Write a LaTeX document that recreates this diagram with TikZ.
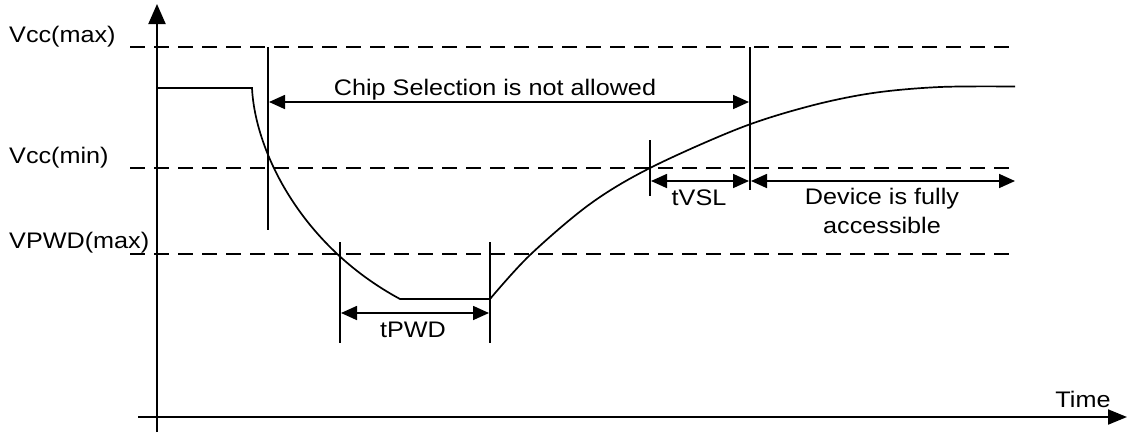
\documentclass[tikz,border=0pt]{standalone}
\usepackage{fontspec}
\setmainfont{Liberation Sans}[FakeStretch=1.12]
\usetikzlibrary{arrows.meta}
\begin{document}
\begin{tikzpicture}[x=1pt,y=-1pt,
  txt/.style={inner sep=0pt,font=\fontsize{22.5}{29}\selectfont,text=black},
  axis/.style={line width=2pt},
  sig/.style={line width=1.7pt},
  lvl/.style={line width=2.2pt,dash pattern=on 15pt off 9pt},
  mark line/.style={line width=1.7pt},
  dim/.style={line width=1.7pt,{Triangle[length=16pt,width=14pt]}-{Triangle[length=16pt,width=14pt]}},
  ]
\useasboundingbox (0,0) rectangle (1129,432);
% axes
\coordinate (yb) at (157,432); \coordinate (yt) at (157,4);
\coordinate (xl) at (138,417); \coordinate (xr) at (1127,417);
\draw[axis,-{Triangle[length=20pt,width=17pt]}] (yb) -- (yt);
\draw[axis,-{Triangle[length=19pt,width=15pt]}] (xl) -- (xr);
\node[txt] (time) at (1083,399) {Time};
% levels
\coordinate (vmaxL) at (130,47); \coordinate (vmaxR) at (1016,47);
\coordinate (vminL) at (130,168); \coordinate (vminR) at (1016,168);
\coordinate (vpwdL) at (130,254); \coordinate (vpwdR) at (1016,254);
\draw[lvl] (vmaxL) -- (vmaxR);
\draw[lvl] (vminL) -- (vminR);
\draw[lvl] (vpwdL) -- (vpwdR);
\node[txt,anchor=west] (lmax) at (9,37) {Vcc(max)};
\node[txt,anchor=west] (lmin) at (9,158) {Vcc(min)};
\node[txt,anchor=west] (lpwd) at (9,243) {VPWD(max)};
% signal
\coordinate (s0) at (157,88); \coordinate (s1) at (252,88);
\coordinate (s2) at (400,299); \coordinate (s3) at (490,299);
\draw[sig] (s0) -- (s1) .. controls (255,150) and (300,245) .. (s2) -- (s3);
\draw[sig] plot[smooth,tension=0.55] coordinates {(490,299) (530,255) (590,204) (650,168) (740,128) (810,106) (873,93) (940,87) (1015,86.5)};
% marker lines
\coordinate (m1t) at (268,47); \coordinate (m1b) at (268,230);
\coordinate (m2t) at (750,47); \coordinate (m2b) at (750,190);
\coordinate (m3t) at (340,242); \coordinate (m3b) at (340,343);
\coordinate (m4t) at (490,242); \coordinate (m4b) at (490,343);
\coordinate (m5t) at (650,140); \coordinate (m5b) at (650,196);
\draw[mark line] (m1t) -- (m1b);
\draw[mark line] (m2t) -- (m2b);
\draw[mark line] (m3t) -- (m3b);
\draw[mark line] (m4t) -- (m4b);
\draw[mark line] (m5t) -- (m5b);
% dimension arrows
\coordinate (c1) at (269,102); \coordinate (c2) at (749,102);
\draw[dim] (c1) -- (c2);
\node[txt] (chip) at (495,90) {Chip Selection is not allowed};
\coordinate (p1) at (341,313); \coordinate (p2) at (489,313);
\draw[dim] (p1) -- (p2);
\node[txt] (tpwd) at (413,330) {tPWD};
\coordinate (v1) at (651,181); \coordinate (v2) at (749,181);
\draw[dim] (v1) -- (v2);
\node[txt] (tvsl) at (699,198) {tVSL};
\coordinate (d1) at (751,181); \coordinate (d2) at (1015,181);
\draw[dim] (d1) -- (d2);
\node[txt,align=center] (dev) at (882,211) {Device is fully\\accessible};
\end{tikzpicture}
\end{document}
